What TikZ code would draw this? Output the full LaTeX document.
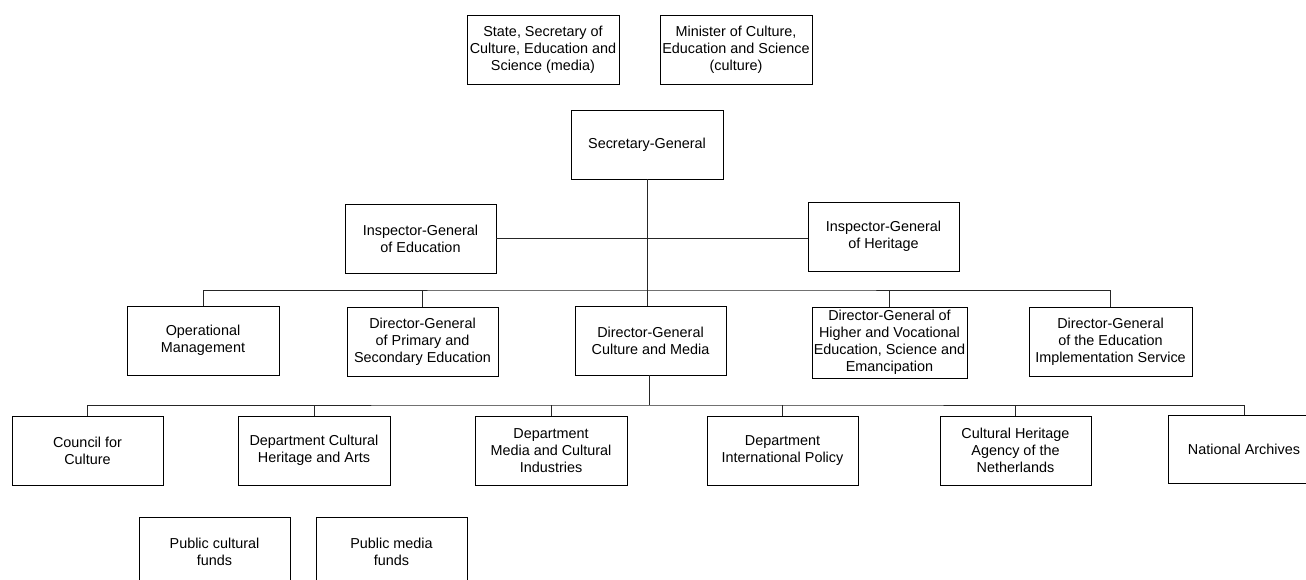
\documentclass[tikz,border=0pt]{standalone}
\usepackage{fontspec}
\setmainfont{Liberation Sans}
\begin{document}
\begin{tikzpicture}[x=0.75pt,y=-0.75pt,
  box/.style 2 args={draw=black,line width=0.7pt,fill=white,inner sep=0pt,
    minimum width=#1*0.75pt,minimum height=#2*0.75pt,align=center,
    font=\fontsize{10.8}{12.75}\selectfont},
  link/.style={draw=black!85,line width=0.7pt}]
\clip (0,0) rectangle (1306,579);
\fill[white] (0,0) rectangle (1306,579);
% top
\node[box={152}{69}] (st) at (543,49.5) {State, Secretary of\\Culture, Education and\\Science (media)};
\node[box={152}{69}] (mi) at (736,49.5) {Minister of Culture,\\Education and Science\\(culture)};
\node[box={152}{69}] (sg) at (647,144.5) {Secretary-General};
\node[box={151}{69}] (ige) at (420.5,238.5) {Inspector-General\\of Education};
\node[box={151}{69}] (igh) at (883.5,236.5) {Inspector-General\\of Heritage};
% level 3
\node[box={152}{69}] (om) at (203,340.5) {Operational\\Management};
\node[box={151}{69}] (dgp) at (422.5,341.5) {Director-General\\of Primary and\\Secondary Education};
\node[box={151}{69}] (dgc) at (650.5,340.5) {Director-General\\Culture and Media};
\node[box={155}{71}] (dgh) at (889.5,342.5) {Director-General of\\Higher and Vocational\\Education, Science and\\Emancipation};
\node[box={163}{69}] (dgi) at (1110.5,341.5) {Director-General\\of the Education\\Implementation Service};
% level 4
\node[box={151}{69}] (cc) at (87.5,450.5) {Council for\\Culture};
\node[box={152}{69}] (dch) at (314,450.5) {Department Cultural\\Heritage and Arts};
\node[box={152}{69}] (dm) at (551,450.5) {Department\\Media and Cultural\\Industries};
\node[box={151}{69}] (dip) at (782.5,450.5) {Department\\International Policy};
\node[box={151}{69}] (cha) at (1015.5,450.5) {Cultural Heritage\\Agency of the\\Netherlands};
\node[box={152}{68}] (na) at (1244,449) {National Archives};
% bottom
\node[box={151}{69}] (pcf) at (214.5,551.5) {Public cultural\\funds};
\node[box={151}{69}] (pmf) at (391.5,551.5) {Public media\\funds};
% connectors
\coordinate (b1) at (647,290);
\coordinate (b2) at (649,405);
\draw[link] (sg.south) -- (sg.south |- dgc.north);
\draw[link] (ige.east) -- (ige.east -| igh.west);
\draw[link] (om.north) |- (b1) -| (dgi.north);
\draw[link] (dgp.north) -- (dgp.north |- b1);
\draw[link] (dgh.north) -- (dgh.north |- b1);
\draw[link] (b2 |- dgc.south) -- (b2);
\draw[link] (cc.north) |- (b2) -| (na.north);
\draw[link] (dch.north) -- (dch.north |- b2);
\draw[link] (dm.north) -- (dm.north |- b2);
\draw[link] (dip.north) -- (dip.north |- b2);
\draw[link] (cha.north) -- (cha.north |- b2);
\end{tikzpicture}
\end{document}
